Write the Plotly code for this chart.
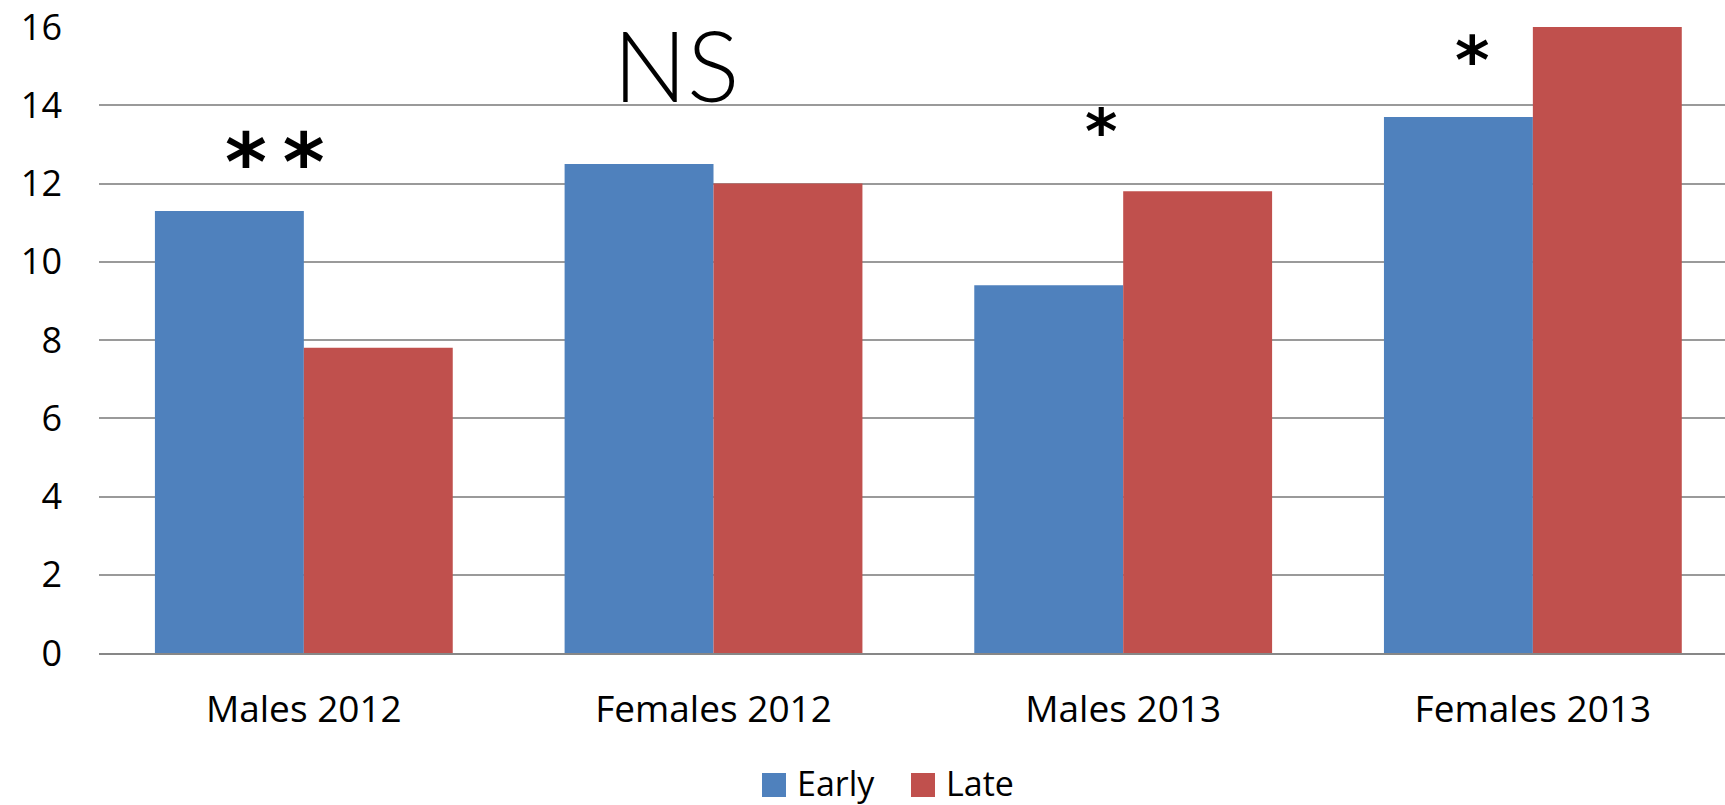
import plotly.graph_objects as go

# Chart data
categories = ["Males 2012", "Females 2012", "Males 2013", "Females 2013"]
early = [11.3, 12.5, 9.4, 13.7]
late = [7.8, 12.0, 11.8, 16.0]
y_ticks = [0, 2, 4, 6, 8, 10, 12, 14, 16]
series_names = ["Early", "Late"]
series_colors = ["#4F81BD", "#C0504D"]

# Significance labels: text, category position, height
sig_text = ["*\u2009*", "NS", "*", "*"]
sig_x = [-0.071, 0.908, 1.945, 2.853]
sig_y = [12.54, 15.05, 13.34, 15.15]

W, H = 1725, 805
M_L, M_R, M_T, M_B = 99, 0, 27, 152
FONT = "Open Sans"

fig = go.Figure()
for name, vals, col in zip(series_names, [early, late], series_colors):
    fig.add_trace(go.Bar(
        x=list(range(len(categories))), y=vals, name=name,
        marker=dict(color=col, line=dict(width=0)),
        showlegend=False,
    ))

fig.update_layout(
    width=W, height=H,
    margin=dict(l=M_L, r=M_R, t=M_T, b=M_B),
    paper_bgcolor="white", plot_bgcolor="white",
    barmode="group", bargap=0.273, bargroupgap=0,
    font=dict(family=FONT, color="black", size=36),
    showlegend=False,
)
fig.update_xaxes(
    range=[-0.5, 3.469],
    tickmode="array", tickvals=list(range(len(categories))), ticktext=categories,
    tickfont=dict(family=FONT, size=37),
    showgrid=False, zeroline=False,
    showline=True, linecolor="#878787", linewidth=2,
    ticks="", ticklabelstandoff=23,
)
fig.update_yaxes(
    range=[0, 16], tickmode="array", tickvals=y_ticks,
    tickfont=dict(family=FONT, size=36),
    showgrid=True, gridcolor="#9a9a9a", gridwidth=2,
    zeroline=False, showline=False, ticks="", ticklabelstandoff=36,
)

# Significance annotations
for i, (t, x, y) in enumerate(zip(sig_text, sig_x, sig_y)):
    if t == "NS":
        f = dict(family="Lato", size=98, weight=300, color="black")
    else:
        f = dict(family="DejaVu Sans", size=[80, 0, 62, 66][i], weight="bold", color="black")
    fig.add_annotation(x=x, y=y, xref="x", yref="y", text=t, showarrow=False,
                       font=f, xanchor="center", yanchor="middle")

# Legend drawn below the plot: coloured squares with labels
plot_w = W - M_L - M_R
plot_h = H - M_T - M_B
def px_x(px):
    return (px - M_L) / plot_w
def px_y(py):
    return (H - M_B - py) / plot_h

legend_sq_left = [762, 911]
for name, col, left in zip(series_names, series_colors, legend_sq_left):
    fig.add_shape(type="rect", xref="paper", yref="paper",
                  x0=px_x(left), x1=px_x(left + 24), y0=px_y(797), y1=px_y(773),
                  fillcolor=col, line=dict(width=0))
    fig.add_annotation(xref="paper", yref="paper", x=px_x(left + 33), y=px_y(783),
                       text=name, showarrow=False, xanchor="left", yanchor="middle",
                       font=dict(family=FONT, size=34, color="black"))

fig.write_html("out.html")
